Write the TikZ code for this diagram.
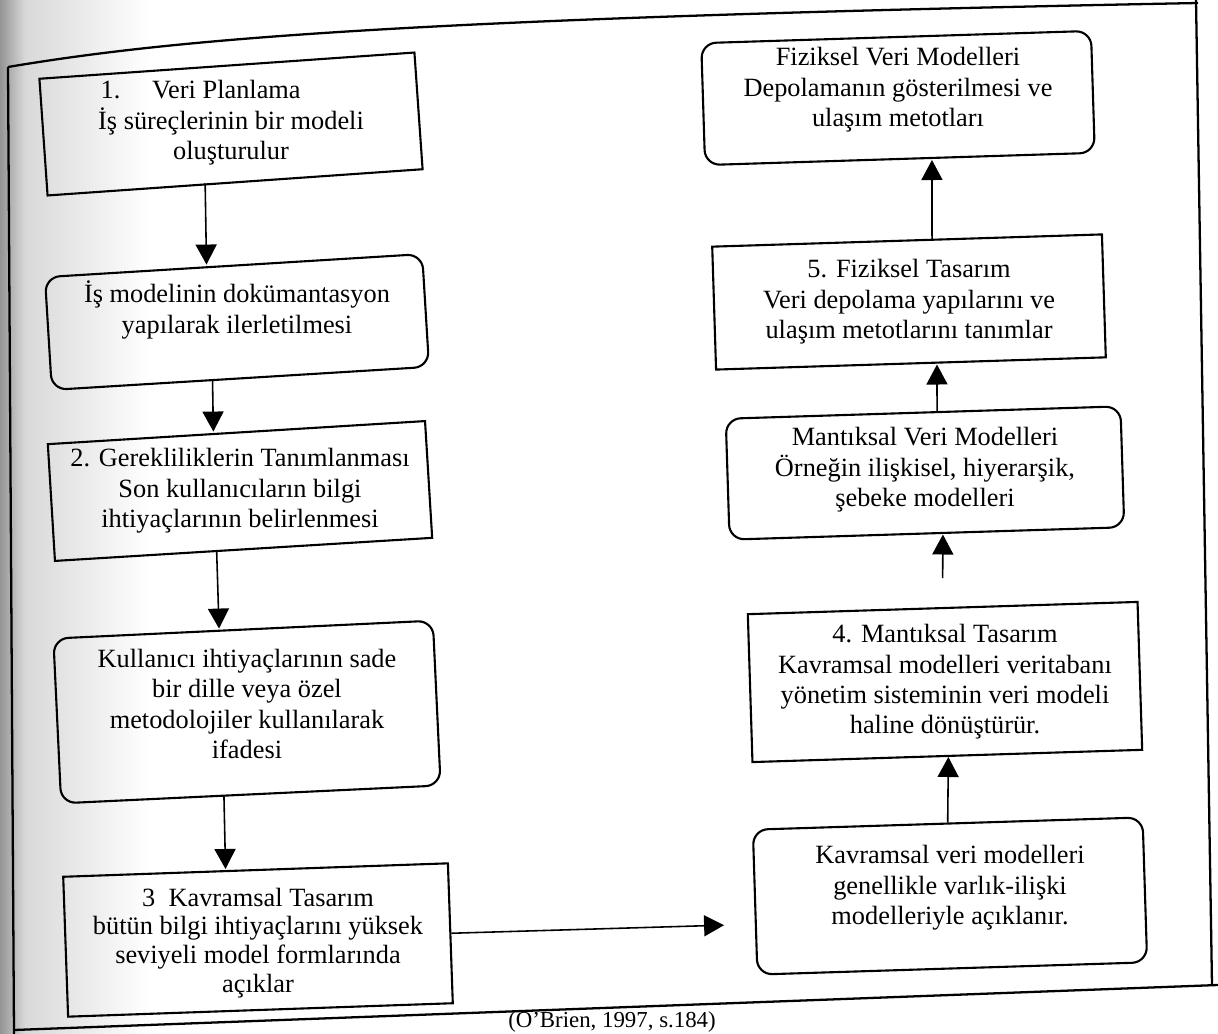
\documentclass[tikz,border=0pt]{standalone}
\usepackage{fontspec}
\setmainfont{Liberation Serif}
\usetikzlibrary{arrows.meta,calc}

\begin{document}
\begin{tikzpicture}[x=0.02cm, y=-0.02cm,
    stepbox/.style={rectangle, draw=black, line width=1.2pt, inner sep=0pt},
    roundbox/.style={stepbox, rounded corners=0.3cm},
    boxtext/.style={align=center, inner sep=0pt, font=\fontsize{15}{17.3}\selectfont},
    leftcol/.style={rotate=3.5},
    rightcol/.style={rotate=1.8},
    flow/.style={line width=0.9pt, -{Triangle[length=0.4cm, width=0.42cm]}},
    pageline/.style={line width=1.3pt}
]
    \useasboundingbox (0,0) rectangle (1218,1034);
    \shade[left color=black!42, right color=black!15] (0,0) rectangle (25,1034);
    \shade[left color=black!15, right color=white] (25,0) rectangle (150,1034);

    \draw[pageline] (8,67) .. controls (180,38) and (420,18) .. (1198,3);
    \draw[pageline] (1196,0) -- (1212,985);
    \draw[pageline] (8,67) -- (14,1034);
    \draw[pageline] (14,1030) -- (1218,985);

    \node[stepbox, rotate=4, minimum width=7.52cm, minimum height=2.34cm] (plan) at (231,124) {};
    \node[roundbox, leftcol, minimum width=7.56cm, minimum height=2.26cm] (ismodel) at (237,322) {};
    \node[stepbox, leftcol, minimum width=7.56cm, minimum height=2.34cm] (gerek) at (240,491) {};
    \node[roundbox, rotate=2.7, minimum width=7.6cm, minimum height=3.3cm] (ifade) at (247,712) {};
    \node[stepbox, rotate=2, minimum width=7.7cm, minimum height=2.8cm] (kavram) at (258,940) {};

    \node[roundbox, rightcol, minimum width=7.8cm, minimum height=2.9cm] (kavmodel) at (950,896) {};
    \node[stepbox, rightcol, minimum width=7.8cm, minimum height=2.96cm] (mantik) at (945,682) {};
    \node[roundbox, rightcol, minimum width=7.9cm, minimum height=2.42cm] (mantmodel) at (925,473) {};
    \node[stepbox, rightcol, minimum width=7.8cm, minimum height=2.46cm] (fizik) at (909,302) {};
    \node[roundbox, rightcol, minimum width=7.8cm, minimum height=2.44cm] (fizmodel) at (898,98) {};

    \node[boxtext] (plantext) at ($(plan)+(0,-1)$)
        {1.\hspace{1.2em}Veri Planlama\hspace*{2.3em}\\ İş süreçlerinin bir modeli\\ oluşturulur};
    \node[boxtext] (ismodeltext) at ($(ismodel)+(0,-12)$)
        {İş modelinin dokümantasyon\\ yapılarak ilerletilmesi};
    \node[boxtext] (gerektext) at (gerek)
        {2. Gerekliliklerin Tanımlanması\\ Son kullanıcıların bilgi\\ ihtiyaçlarının belirlenmesi};
    \node[boxtext] (ifadetext) at ($(ifade)+(0,-8)$)
        {Kullanıcı ihtiyaçlarının sade\\ bir dille veya özel\\ metodolojiler kullanılarak\\ ifadesi};
    \node[boxtext, font=\fontsize{15}{16.4}\selectfont] (kavramtext) at ($(kavram)+(0,3)$)
        {3\enspace Kavramsal Tasarım\\ bütün bilgi ihtiyaçlarını yüksek\\ seviyeli model formlarında\\ açıklar};

    \node[boxtext] (kavmodeltext) at ($(kavmodel)+(0,-8)$)
        {Kavramsal veri modelleri\\ genellikle varlık-ilişki\\ modelleriyle açıklanır.};
    \node[boxtext] (mantiktext) at (mantik)
        {4. Mantıksal Tasarım\\ Kavramsal modelleri veritabanı\\ yönetim sisteminin veri modeli\\ haline dönüştürür.};
    \node[boxtext] (mantmodeltext) at ($(mantmodel)+(0,-3)$)
        {Mantıksal Veri Modelleri\\ Örneğin ilişkisel, hiyerarşik,\\ şebeke modelleri};
    \node[boxtext] (fiziktext) at (fizik)
        {5. Fiziksel Tasarım\\ Veri depolama yapılarını ve\\ ulaşım metotlarını tanımlar};
    \node[boxtext] (fizmodeltext) at ($(fizmodel)+(0,-8)$)
        {Fiziksel Veri Modelleri\\ Depolamanın gösterilmesi ve\\ ulaşım metotları};

    \node[boxtext, font=\fontsize{13}{15}\selectfont, anchor=south] (kaynak) at (612,1033)
        {(O'Brien, 1997, s.184)};

    \draw[flow] ($(plan.south)+(-30,0)$) -- ($(ismodel.north)+(-27,0)$);
    \draw[flow] ($(ismodel.south)+(-28,0)$) -- ($(gerek.north)+(-23,0)$);
    \draw[flow] ($(gerek.south)+(-27,0)$) -- ($(ifade.north)+(-24,0)$);
    \draw[flow] ($(ifade.south)+(-27,0)$) -- ($(kavram.north)+(-30,0)$);
    \draw[flow] (kavram.east) -- ($(kavmodel.west)+(-30,23)$);
    \draw[flow] (kavmodel.north) -- ($(mantik.south)+(1,0)$);
    \draw[flow] ($(mantik.north)+(0,-29)$) -- ($(mantmodel.south)+(16,0)$);
    \draw[flow] ($(mantmodel.north)+(14,0)$) -- ($(fizik.south)+(26,0)$);
    \draw[flow] ($(fizik.north)+(25,0)$) -- ($(fizmodel.south)+(32,0)$);
\end{tikzpicture}
\end{document}
